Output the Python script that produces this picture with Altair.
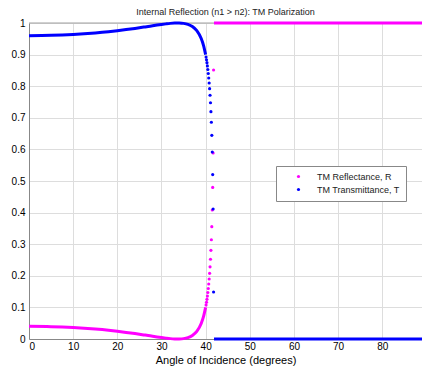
import altair as alt
import pandas as pd

# ---- data ----
series_names = ["TM Reflectance, R", "TM Transmittance, T"]
series_colors = ["#ff00ff", "#0000ff"]

curve_angles = [0, 5, 10, 15, 18, 20, 22, 24, 25, 26, 27, 28, 29, 30, 31, 32, 33, 33.7, 34, 35, 36, 37, 38, 39, 39.5, 40]
curve_R = [0.0400, 0.0391, 0.0363, 0.0314, 0.0275, 0.0244, 0.0209, 0.0171, 0.0151, 0.0130, 0.0109, 0.0087, 0.0066,
           0.0046, 0.0028, 0.0012, 0.0002, 0.0000, 0.0001, 0.0012, 0.0045, 0.0113, 0.0243, 0.0492, 0.0698, 0.1001]
curve_T = [0.9600, 0.9609, 0.9637, 0.9686, 0.9725, 0.9756, 0.9791, 0.9829, 0.9849, 0.9870, 0.9891, 0.9913, 0.9934,
           0.9954, 0.9972, 0.9988, 0.9998, 1.0000, 0.9999, 0.9988, 0.9955, 0.9887, 0.9757, 0.9508, 0.9302, 0.8999]

trans_angles = [40.1, 40.2, 40.3, 40.4, 40.5, 40.6, 40.7, 40.8, 40.9, 41.0, 41.1, 41.2, 41.3, 41.4, 41.5, 41.6, 41.7, 41.8]
trans_R = [0.1078, 0.1163, 0.1256, 0.1358, 0.1472, 0.1598, 0.1740, 0.1898, 0.2079, 0.2285, 0.2525, 0.2806,
           0.3141, 0.3555, 0.4082, 0.4796, 0.5886, 0.8513]
trans_T = [0.8922, 0.8837, 0.8744, 0.8642, 0.8528, 0.8402, 0.8260, 0.8102, 0.7921, 0.7715, 0.7475, 0.7194,
           0.6859, 0.6445, 0.5918, 0.5204, 0.4114, 0.1487]

tir_angles = [41.9, 89]
tir_R = [1, 1]
tir_T = [0, 0]

x_ticks = [0, 10, 20, 30, 40, 50, 60, 70, 80]
y_ticks = [0, 0.1, 0.2, 0.3, 0.4, 0.5, 0.6, 0.7, 0.8, 0.9, 1]
x_domain = [0, 89]
y_domain = [0, 1]

# ---- tables ----
rows = []
for a, v in zip(curve_angles, curve_R):
    rows.append({"angle": a, "value": v, "series": series_names[0], "seg": "R1"})
for a, v in zip(tir_angles, tir_R):
    rows.append({"angle": a, "value": v, "series": series_names[0], "seg": "R2"})
for a, v in zip(curve_angles, curve_T):
    rows.append({"angle": a, "value": v, "series": series_names[1], "seg": "T1"})
for a, v in zip(tir_angles, tir_T):
    rows.append({"angle": a, "value": v, "series": series_names[1], "seg": "T2"})
lines_df = pd.DataFrame(rows)

prow = []
for a, v in zip(trans_angles, trans_R):
    prow.append({"angle": a, "value": v, "series": series_names[0]})
for a, v in zip(trans_angles, trans_T):
    prow.append({"angle": a, "value": v, "series": series_names[1]})
pts_df = pd.DataFrame(prow)

border_df = pd.DataFrame({"angle": [x_domain[0]], "angle2": [x_domain[1]], "value": [y_domain[1]]})

# ---- scales / axes ----
x_scale = alt.Scale(domain=x_domain, nice=False, zero=False)
y_scale = alt.Scale(domain=y_domain, nice=False)
x_axis = alt.Axis(values=x_ticks, title="Angle of Incidence (degrees)", grid=True, ticks=False, tickSize=0,
                  labelPadding=2, titlePadding=3, format="d", titleFontWeight="normal")
y_axis = alt.Axis(values=y_ticks, title=None, grid=True, ticks=False, tickSize=0, labelPadding=4, format=".1~f")

X = alt.X("angle:Q", scale=x_scale, axis=x_axis)
Y = alt.Y("value:Q", scale=y_scale, axis=y_axis)
color_scale = alt.Scale(domain=series_names, range=series_colors)
legend = alt.Legend(
    title=None, orient="none", legendX=247, legendY=143, fillColor="white", strokeColor="#888888",
    padding=6, symbolType="circle", symbolSize=10, symbolOffset=12, labelOffset=14,
    labelFontSize=9, labelFont="Liberation Sans", labelColor="#222222", rowPadding=3,
    symbolStrokeWidth=0)
color = alt.Color("series:N", scale=color_scale, legend=legend)

border = alt.Chart(border_df).mark_rule(color="#a0a0a0", strokeWidth=1).encode(
    x=X, x2="angle2:Q", y=Y
)

lines = alt.Chart(lines_df).mark_line(strokeWidth=3, interpolate="monotone").encode(
    x=X, y=Y, color=color, detail="seg:N",
)

points = alt.Chart(pts_df).mark_circle(size=10, opacity=1).encode(
    x=X, y=Y, color=color, order=alt.Order("series:N"),
)

chart = alt.layer(border, points, lines).properties(
    width=393, height=316,
    title=alt.TitleParams("Internal Reflection (n1 > n2): TM Polarization", fontSize=9, fontWeight="normal",
                          font="Liberation Sans", color="#222222", offset=0, anchor="middle"),
    autosize=alt.AutoSizeParams(type="none"),
    padding={"left": 29, "top": 23, "right": 0, "bottom": 27},
).configure_view(stroke=None).configure_axis(
    domainColor="#a0a0a0", domainWidth=1,
    gridColor="#d4d4d4", gridDash=[2, 3], gridWidth=1,
    labelFont="Liberation Sans", labelFontSize=9, labelColor="#222222",
    titleFont="Liberation Sans", titleFontSize=9, titleFontWeight="normal", titleColor="#222222",
).configure_legend(symbolType="circle").configure(background="white")

chart.save("out.html", embed_options={"renderer": "svg", "actions": False})
